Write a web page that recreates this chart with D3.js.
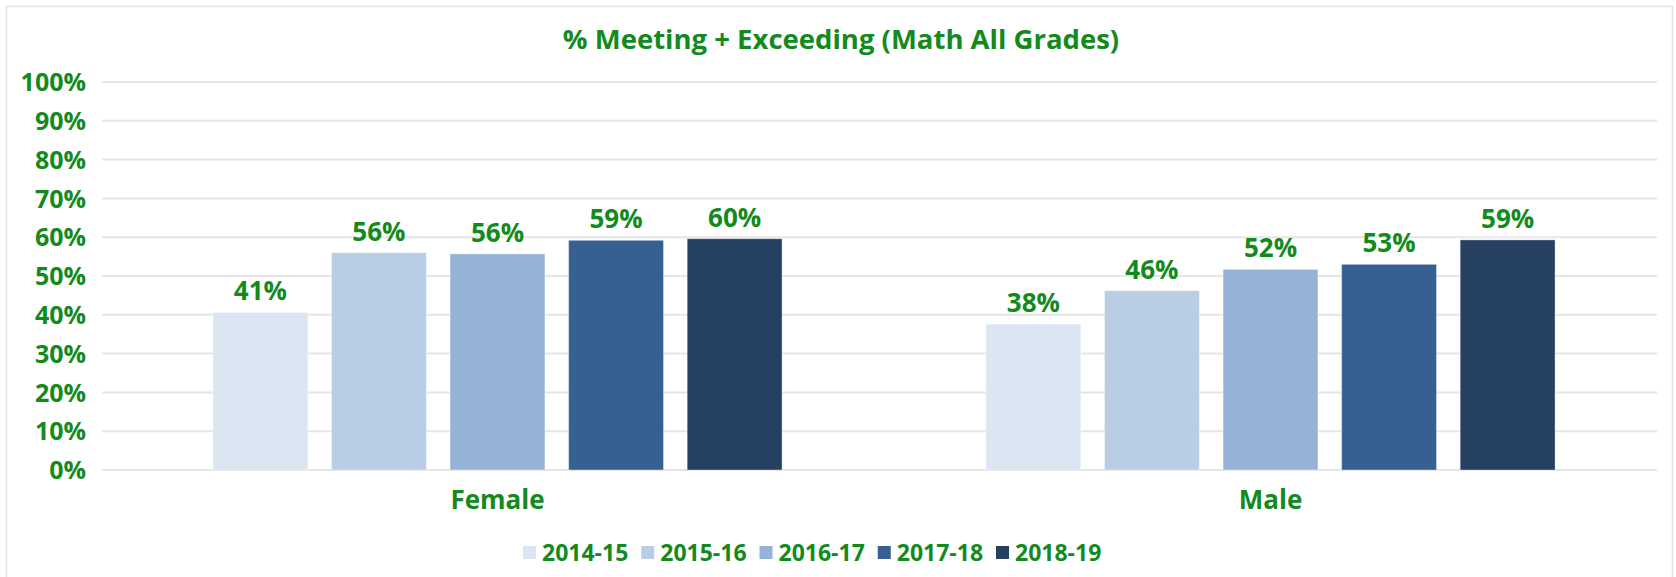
<!DOCTYPE html>
<html>
<head>
<meta charset="utf-8">
<script src="https://cdn.jsdelivr.net/npm/d3@7"></script>
<style>
  html, body { margin: 0; padding: 0; background: #fff; }
  #chart { width: 1676px; height: 577px; }
  text { font-family: "Open Sans", Lato, sans-serif; font-weight: bold; fill: #138a1c; }
</style>
</head>
<body>
<div id="chart"></div>
<script>
const groups = ['Female', 'Male'];
const years = ['2014-15', '2015-16', '2016-17', '2017-18', '2018-19'];
const female = [40.6, 56.0, 55.7, 59.2, 59.6];
const male = [37.6, 46.2, 51.7, 53.0, 59.3];
const yTicks = [0, 10, 20, 30, 40, 50, 60, 70, 80, 90, 100];
const colors = ['#dce6f2', '#b9cde5', '#95b3d7', '#376092', '#254061'];

const rows = groups.map((g, i) => ({
  group: g,
  values: years.map((yr, j) => ({ year: yr, value: (i === 0 ? female : male)[j] }))
}));

const width = 1676, height = 577;
const margin = { top: 82, right: 19, bottom: 107, left: 111 };
const w = width - margin.left - margin.right;
const h = height - margin.top - margin.bottom;

const svg = d3.select('#chart').append('svg').attr('width', width).attr('height', height);

// outer frame
svg.append('rect').attr('x', 6.5).attr('y', 6.5).attr('width', 1666).attr('height', 575)
  .attr('fill', 'none').attr('stroke', '#e3e3e3').attr('stroke-width', 1.5);

svg.append('text').attr('x', 841).attr('y', 49).attr('text-anchor', 'middle')
  .style('font-size', '27.5px')
  .text('% Meeting + Exceeding (Math All Grades)');

const g = svg.append('g').attr('transform', `translate(${margin.left},${margin.top})`);

const x0 = d3.scaleBand().domain(groups).range([0, w]);
const x1 = d3.scaleBand().domain(years).range([0, x0.bandwidth()])
  .paddingInner(0.2).paddingOuter(0.86);
const y = d3.scaleLinear().domain([0, 100]).range([h, 0]);
const color = d3.scaleOrdinal().domain(years).range(colors);

// gridlines
g.append('g').selectAll('line').data(yTicks).enter().append('line')
  .attr('x1', -9).attr('x2', w)
  .attr('y1', d => y(d)).attr('y2', d => y(d))
  .attr('stroke', '#e6e6e6').attr('stroke-width', 2);

// y axis labels
const yAxis = g.append('g').attr('transform', 'translate(-22,0)')
  .call(d3.axisLeft(y).tickValues(yTicks).tickSize(0).tickFormat(d => d + '%'));
yAxis.select('.domain').remove();
yAxis.selectAll('text').style('font-size', '25px').attr('dy', '0.35em')
  .style('font-family', '"Open Sans", sans-serif').attr('fill', '#138a1c');

const grp = g.selectAll('.grp').data(rows).enter().append('g')
  .attr('transform', d => `translate(${x0(d.group)},0)`);

grp.selectAll('rect').data(d => d.values).enter().append('rect')
  .attr('x', d => x1(d.year)).attr('width', x1.bandwidth())
  .attr('y', d => y(d.value)).attr('height', d => h - y(d.value))
  .attr('fill', d => color(d.year))
  .attr('stroke', '#ffffff').attr('stroke-opacity', 0.35);

grp.selectAll('.lbl').data(d => d.values).enter().append('text')
  .attr('x', d => x1(d.year) + x1.bandwidth() / 2)
  .attr('y', d => y(d.value) - 12)
  .attr('text-anchor', 'middle').style('font-size', '26px')
  .text(d => Math.round(d.value) + '%');

// category axis
const xAxis = g.append('g').attr('transform', `translate(0,${h})`)
  .call(d3.axisBottom(x0).tickSize(0).tickPadding(21));
xAxis.select('.domain').remove();
xAxis.selectAll('text').style('font-size', '26px')
  .style('font-family', '"Open Sans", sans-serif').attr('fill', '#138a1c');

// legend
const lx = d3.scalePoint().domain(years).range([523, 996]);
const leg = svg.append('g').selectAll('g').data(years).enter().append('g')
  .attr('transform', d => `translate(${lx(d)},553)`);
leg.append('rect').attr('x', 0).attr('y', -7).attr('width', 13).attr('height', 13)
  .attr('fill', d => color(d));
leg.append('text').attr('x', 19).attr('y', 0).attr('dy', '0.35em')
  .style('font-size', '23px').text(d => d);
</script>
</body>
</html>
